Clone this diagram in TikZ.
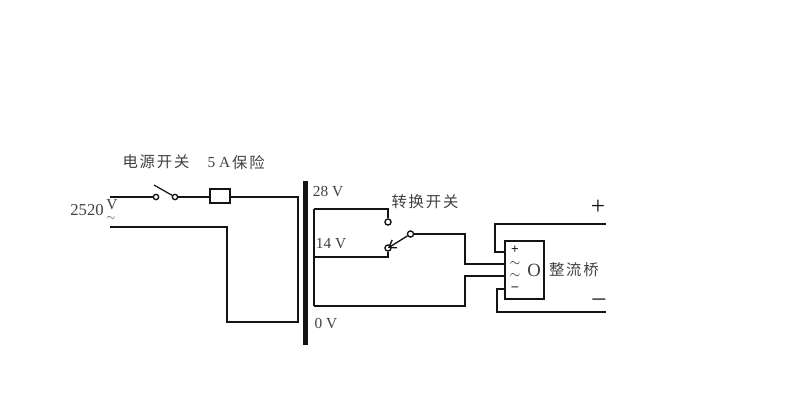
\documentclass[tikz,border=0pt]{standalone}
\usepackage{fontspec}
\setmainfont{Liberation Serif}
\newfontfamily\cjk{Noto Sans CJK SC}[LetterSpace=12]
\usetikzlibrary{arrows.meta,positioning}
\definecolor{inkline}{gray}{0.08}
\definecolor{inktext}{gray}{0.25}
\tikzset{
	wire/.style={draw=inkline, line width=1.3pt},
	contact/.style={circle, draw=inkline, line width=1pt, fill=white, inner sep=0pt, minimum size=4.6pt},
	label/.style={text=inktext, inner sep=0pt, font=\fontsize{11.5}{12}\selectfont},
	cnlabel/.style={label, font=\fontsize{11.5}{12}\selectfont\cjk},
	sign/.style={text=inkline, inner sep=0pt, font=\fontsize{10}{10}\selectfont}
}
\begin{document}
\begin{tikzpicture}[x=0.75pt, y=-0.75pt]
	\useasboundingbox (0,0) rectangle (797,400);
	% mains side
	\coordinate (l1) at (110,197);
	\coordinate (l2) at (110,227);
	\coordinate (p1) at (298,197);
	\coordinate (p2) at (298,322);
	\coordinate (p3) at (227,322);
	\node[contact, minimum size=4pt] (s1) at (156,197) {};
	\node[contact, minimum size=4pt] (s2) at (175,197) {};
	\node[draw=inkline, line width=1.1pt, minimum width=15pt, minimum height=10.5pt, inner sep=0pt] (fuse) at (220,196) {};
	\coordinate (blade) at (154,185);
	\draw[wire] (l1) -- (s1);
	\draw[wire] (s2) -- (fuse.west |- s2);
	\draw[wire] (fuse.east |- p1) -- (p1) -- (p2) -- (p3) -- (p3 |- l2) -- (l2);
	\draw[wire, line width=0.9pt] (blade) -- (s2);
	% core
	\coordinate (c1) at (305.5,181);
	\coordinate (c2) at (305.5,345);
	\draw[draw=inkline, line width=3.2pt] (c1) -- (c2);
	% secondary
	\coordinate (t28) at (314,209);
	\coordinate (t14) at (314,257);
	\coordinate (t0) at (314,306);
	\node[contact] (a28) at (388,222) {};
	\node[contact] (a14) at (388,248) {};
	\node[contact] (com) at (410.5,234) {};
	\coordinate (b1) at (505,264);
	\coordinate (b2) at (505,276);
	\draw[wire, line width=2pt] (t28) -- (t0);
	\draw[wire] (t28) -| (a28);
	\draw[wire] (t14) -| (a14);
	\draw[wire] (com) -- (465,234) |- (b1);
	\draw[wire] (t0) -- (465,306) |- (b2);
	\draw[wire, line width=1pt, -{Straight Barb[length=5pt,width=7pt]}] (com) -- (a14.center);
	% bridge
	\node[draw=inkline, line width=1.2pt, minimum width=29.2pt, minimum height=43.5pt, inner sep=0pt] (bridge) at (524.5,270) {};
	\node[sign] (bplus) at (515,250) {\textbf{+}};
	\node[sign] (bac1) at (515,264) {$\sim$};
	\node[sign] (bac2) at (515,276) {$\sim$};
	\node[sign] (bminus) at (515,289) {\textbf{--}};
	\coordinate (o1) at (505,252);
	\coordinate (o2) at (505,289);
	\coordinate (out1) at (606,224);
	\coordinate (out2) at (606,312);
	\draw[wire] (o1) -- (495,252) |- (out1);
	\draw[wire] (o2) -- (497,289) |- (out2);
	% labels
	\node[cnlabel] (ps) at (156,162) {电源开关};
	\node[label] (fa) at (219,163) {5 A};
	\node[cnlabel] (fb) [right=1pt of fa] {保险};
	\node[label, font=\fontsize{12.5}{12}\selectfont] (v) at (87,210) {2520};
	\node[label] (vv) at (112,205) {V};
	\node[label, font=\fontsize{8}{8}\selectfont] (vt) at (111,218) {$\sim$};
	\node[label] (v28) at (328,192) {28 V};
	\node[label] (v14) at (331,244) {14 V};
	\node[label] (v0) at (326,324) {0 V};
	\node[cnlabel] (sw) at (425,202) {转换开关};
	\node[cnlabel] (br) [right=3pt of bridge] {整流桥};
	\node[label, font=\fontsize{14}{14}\selectfont] (zero) at (534,270) {O};
	\node[sign, font=\fontsize{19}{19}\selectfont] (pos) at (598,207) {+};
	\node[sign, font=\fontsize{19}{19}\selectfont] (neg) at (599,302) {--};
\end{tikzpicture}
\end{document}
